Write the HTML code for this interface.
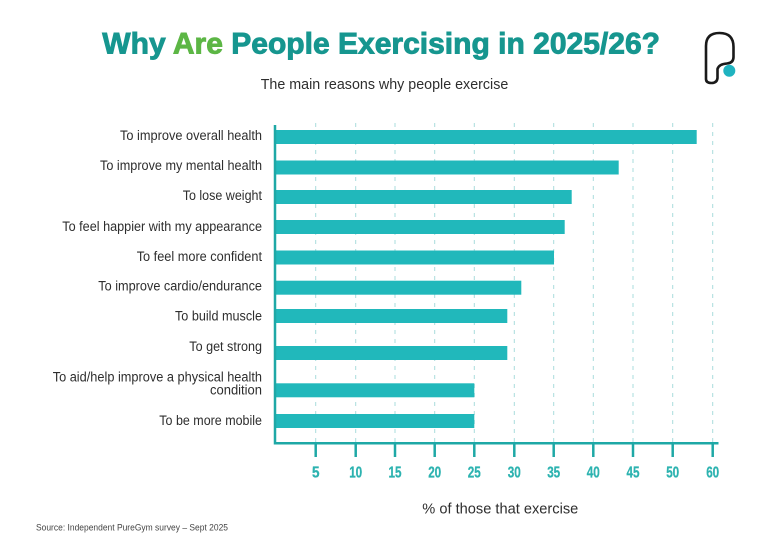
<!DOCTYPE html>
<html>
<head>
<meta charset="utf-8">
<style>
  html,body{margin:0;padding:0;background:#fff;}
  svg{display:block;}
  text{font-family:"Liberation Sans", sans-serif;}
</style>
</head>
<body>
<svg width="768" height="543" viewBox="0 0 768 543" xmlns="http://www.w3.org/2000/svg">
  <rect width="768" height="543" fill="#ffffff"/>

  <!-- Title -->
  <text x="102.3" y="53.5" font-size="30" font-weight="bold" fill="#16968f" stroke="#16968f" stroke-width="0.9" textLength="557.7" lengthAdjust="spacingAndGlyphs">Why <tspan fill="#5cb645" stroke="#5cb645">Are</tspan> People Exercising in 2025/26?</text>
  <!-- Subtitle -->
  <text x="260.7" y="89" font-size="14.5" fill="#2e2e2e" textLength="247.6" lengthAdjust="spacingAndGlyphs">The main reasons why people exercise</text>

  <!-- Logo -->
  <path d="M706 79 L706 46 Q706 33 719.5 33 Q733.5 33 733.5 47 L733.5 57 Q733.5 63 727 63.5 Q719 64 717.5 69 L717.5 78 Q717 83 711.5 83 Q706 83 706 79 Z" fill="none" stroke="#1a1a1a" stroke-width="2.6" stroke-linejoin="round"/>
  <circle cx="729.3" cy="70.7" r="6" fill="#1fb3c0"/>

  <!-- Gridlines -->
  <g stroke="#a9dcdc" stroke-width="1" stroke-dasharray="4 5">
    <line x1="315.7" y1="123" x2="315.7" y2="443"/>
    <line x1="355.7" y1="123" x2="355.7" y2="443"/>
    <line x1="395" y1="123" x2="395" y2="443"/>
    <line x1="434.7" y1="123" x2="434.7" y2="443"/>
    <line x1="474.3" y1="123" x2="474.3" y2="443"/>
    <line x1="514.3" y1="123" x2="514.3" y2="443"/>
    <line x1="553.7" y1="123" x2="553.7" y2="443"/>
    <line x1="593.3" y1="123" x2="593.3" y2="443"/>
    <line x1="633" y1="123" x2="633" y2="443"/>
    <line x1="672.7" y1="123" x2="672.7" y2="443"/>
    <line x1="712.7" y1="123" x2="712.7" y2="443"/>
  </g>

  <!-- Bars -->
  <g fill="#21b8bb">
    <rect x="276" y="130" width="420.7" height="14"/>
    <rect x="276" y="160.5" width="342.7" height="14"/>
    <rect x="276" y="190" width="295.7" height="14"/>
    <rect x="276" y="220" width="288.7" height="14"/>
    <rect x="276" y="250.5" width="278" height="14"/>
    <rect x="276" y="280.7" width="245.3" height="14"/>
    <rect x="276" y="309" width="231.3" height="14"/>
    <rect x="276" y="346" width="231.3" height="14"/>
    <rect x="276" y="383.3" width="198.3" height="14"/>
    <rect x="276" y="414" width="198.3" height="14"/>
  </g>

  <!-- Axes -->
  <g stroke="#1ea8a6" stroke-width="2.5">
    <line x1="275" y1="125" x2="275" y2="444.5"/>
    <line x1="274" y1="443.3" x2="718.5" y2="443.3"/>
    <line x1="315.7" y1="443" x2="315.7" y2="457"/>
    <line x1="355.7" y1="443" x2="355.7" y2="457"/>
    <line x1="395" y1="443" x2="395" y2="457"/>
    <line x1="434.7" y1="443" x2="434.7" y2="457"/>
    <line x1="474.3" y1="443" x2="474.3" y2="457"/>
    <line x1="514.3" y1="443" x2="514.3" y2="457"/>
    <line x1="553.7" y1="443" x2="553.7" y2="457"/>
    <line x1="593.3" y1="443" x2="593.3" y2="457"/>
    <line x1="633" y1="443" x2="633" y2="457"/>
    <line x1="672.7" y1="443" x2="672.7" y2="457"/>
    <line x1="712.7" y1="443" x2="712.7" y2="457"/>
  </g>

  <!-- Tick labels -->
  <g font-size="15.5" font-weight="bold" fill="#2db3b0" stroke="#2db3b0" stroke-width="0.3" text-anchor="middle">
    <text x="315.7" y="477.5" textLength="7.5" lengthAdjust="spacingAndGlyphs">5</text>
    <text x="355.7" y="477.5" textLength="13" lengthAdjust="spacingAndGlyphs">10</text>
    <text x="395" y="477.5" textLength="13" lengthAdjust="spacingAndGlyphs">15</text>
    <text x="434.7" y="477.5" textLength="13" lengthAdjust="spacingAndGlyphs">20</text>
    <text x="474.3" y="477.5" textLength="13" lengthAdjust="spacingAndGlyphs">25</text>
    <text x="514.3" y="477.5" textLength="13" lengthAdjust="spacingAndGlyphs">30</text>
    <text x="553.7" y="477.5" textLength="13" lengthAdjust="spacingAndGlyphs">35</text>
    <text x="593.3" y="477.5" textLength="13" lengthAdjust="spacingAndGlyphs">40</text>
    <text x="633" y="477.5" textLength="13" lengthAdjust="spacingAndGlyphs">45</text>
    <text x="672.7" y="477.5" textLength="13" lengthAdjust="spacingAndGlyphs">50</text>
    <text x="712.7" y="477.5" textLength="13" lengthAdjust="spacingAndGlyphs">60</text>
  </g>

  <!-- Axis title -->
  <text x="422.3" y="513.5" font-size="15" fill="#2e2e2e" textLength="156" lengthAdjust="spacingAndGlyphs">% of those that exercise</text>

  <!-- Category labels -->
  <g font-size="13.5" fill="#2e2e2e" text-anchor="end">
    <text x="262" y="140" textLength="142" lengthAdjust="spacingAndGlyphs">To improve overall health</text>
    <text x="262" y="170" textLength="162" lengthAdjust="spacingAndGlyphs">To improve my mental health</text>
    <text x="262" y="200" textLength="79.3" lengthAdjust="spacingAndGlyphs">To lose weight</text>
    <text x="262" y="231" textLength="199.7" lengthAdjust="spacingAndGlyphs">To feel happier with my appearance</text>
    <text x="262" y="261" textLength="125.3" lengthAdjust="spacingAndGlyphs">To feel more confident</text>
    <text x="262" y="290.7" textLength="163.7" lengthAdjust="spacingAndGlyphs">To improve cardio/endurance</text>
    <text x="262" y="320.7" textLength="87" lengthAdjust="spacingAndGlyphs">To build muscle</text>
    <text x="262" y="351" textLength="72.7" lengthAdjust="spacingAndGlyphs">To get strong</text>
    <text x="262" y="381.7" textLength="209.3" lengthAdjust="spacingAndGlyphs">To aid/help improve a physical health</text>
    <text x="262" y="394.3" textLength="52" lengthAdjust="spacingAndGlyphs">condition</text>
    <text x="262" y="425" textLength="102.7" lengthAdjust="spacingAndGlyphs">To be more mobile</text>
  </g>

  <!-- Source -->
  <text x="36" y="530.5" font-size="9.5" fill="#444" textLength="192" lengthAdjust="spacingAndGlyphs">Source: Independent PureGym survey – Sept 2025</text>
</svg>
</body>
</html>
